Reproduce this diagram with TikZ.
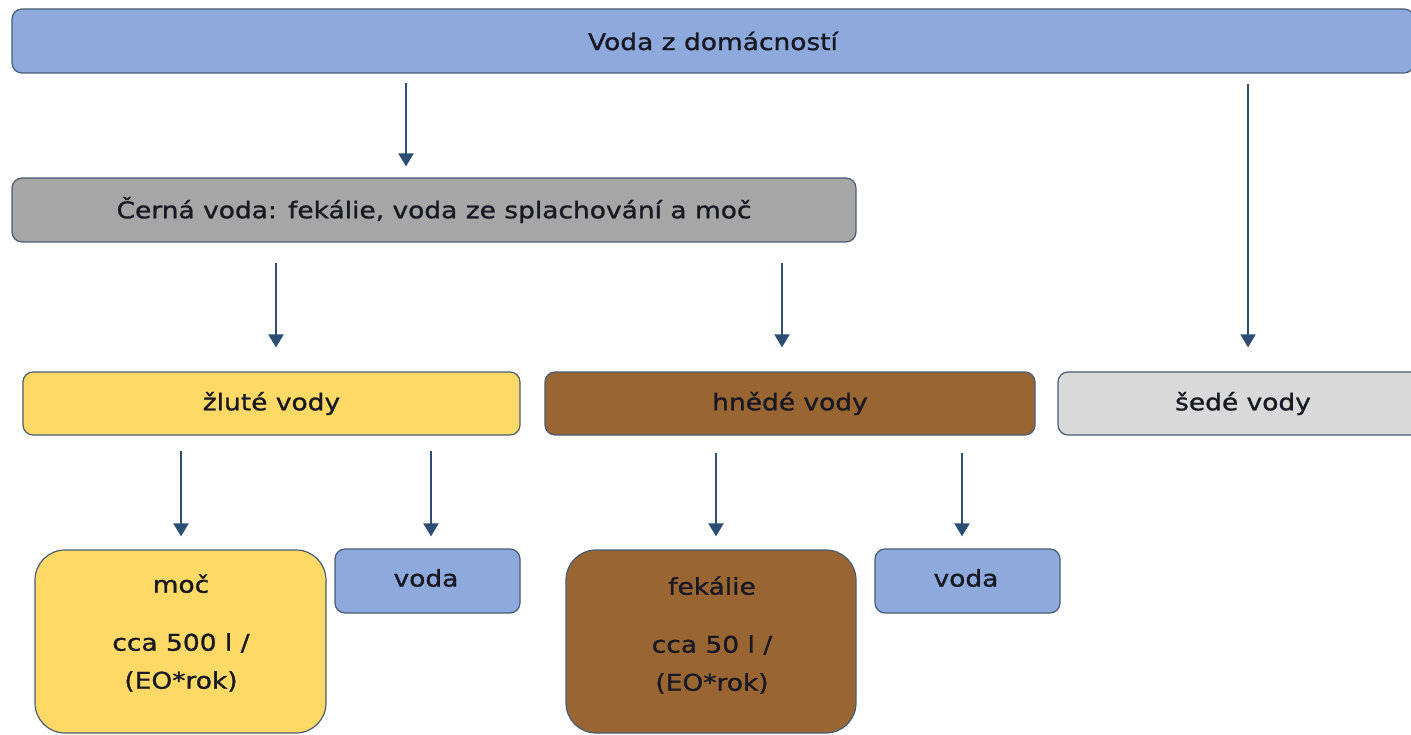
\documentclass[tikz,border=0pt]{standalone}
\usepackage{fontspec}
\setmainfont{DejaVu Sans}[FakeStretch=1.15,FakeBold=1.2]
\usetikzlibrary{arrows.meta}
\definecolor{bblue}{RGB}{142,169,219}
\definecolor{bgray}{RGB}{166,166,166}
\definecolor{byellow}{RGB}{255,217,102}
\definecolor{bbrown}{RGB}{153,102,51}
\definecolor{blight}{RGB}{217,217,217}
\definecolor{bline}{RGB}{72,92,115}
\definecolor{arrowc}{RGB}{44,78,115}
\definecolor{txt}{RGB}{25,25,35}
\tikzset{
  boxbase/.style={draw=bline, line width=1.2pt, rounded corners=10pt, inner sep=0pt,
    text=txt, font=\fontsize{23}{28}\selectfont},
  bigbox/.style={boxbase, rounded corners=30pt},
  txtnode/.style={text=txt, align=center, inner sep=0pt, font=\fontsize{23}{38}\selectfont},
  arr/.style={draw=arrowc, line width=2pt, -{Triangle[length=13pt,width=15pt]}}
}
\begin{document}
\begin{tikzpicture}[x=1pt,y=-1pt]
\useasboundingbox (0,0) rectangle (1411,735);
\clip (0,0) rectangle (1411,735);
\fill[white] (0,0) rectangle (1411,735);
% boxes
\node[boxbase, fill=bblue, minimum width=1402pt, minimum height=64pt] (top) at (713,41) {Voda z domácností};
\node[boxbase, fill=bgray, minimum width=844pt, minimum height=64pt] (cerna) at (434,210) {Černá voda: fekálie, voda ze splachování a moč};
\node[boxbase, fill=byellow, minimum width=497pt, minimum height=63pt] (zlute) at (271.5,403.5) {žluté vody};
\node[boxbase, fill=bbrown, minimum width=490pt, minimum height=63pt] (hnede) at (790,403.5) {hnědé vody};
\node[boxbase, fill=blight, minimum width=370pt, minimum height=63pt] (sede) at (1243,403.5) {šedé vody};
\node[bigbox, fill=byellow, minimum width=291pt, minimum height=183pt] (moc) at (180.5,641.5) {};
\node[txtnode] (moctxt) at (181,633) {moč\\[20pt]cca 500 l /\\(EO*rok)};
\node[boxbase, fill=bblue, minimum width=185pt, minimum height=64pt] (voda1) at (427.5,581) {};
\node[txtnode] (voda1txt) at (426,578) {voda};
\node[bigbox, fill=bbrown, minimum width=290pt, minimum height=183pt] (fek) at (711,641.5) {};
\node[txtnode] (fektxt) at (712,635) {fekálie\\[20pt]cca 50 l /\\(EO*rok)};
\node[boxbase, fill=bblue, minimum width=185pt, minimum height=64pt] (voda2) at (967.5,581) {};
\node[txtnode] (voda2txt) at (966,578) {voda};
% arrow x positions
\coordinate (ax1) at (406,0);
\coordinate (ax2) at (1248,0);
\coordinate (ax3) at (276,0);
\coordinate (ax4) at (782,0);
\coordinate (ax5) at (181,0);
\coordinate (ax6) at (431,0);
\coordinate (ax7) at (716,0);
\coordinate (ax8) at (962,0);
% arrows
\draw[arr, shorten <=9pt, shorten >=11pt] (top.south -| ax1) -- (cerna.north -| ax1);
\draw[arr, shorten <=10pt, shorten >=24pt] (top.south -| ax2) -- (sede.north -| ax2);
\draw[arr, shorten <=20pt, shorten >=24pt] (cerna.south -| ax3) -- (zlute.north -| ax3);
\draw[arr, shorten <=20pt, shorten >=24pt] (cerna.south -| ax4) -- (hnede.north -| ax4);
\draw[arr, shorten <=15pt, shorten >=13pt] (zlute.south -| ax5) -- (moc.north -| ax5);
\draw[arr, shorten <=15pt, shorten >=12pt] (zlute.south -| ax6) -- (voda1.north -| ax6);
\draw[arr, shorten <=17pt, shorten >=13pt] (hnede.south -| ax7) -- (fek.north -| ax7);
\draw[arr, shorten <=17pt, shorten >=12pt] (hnede.south -| ax8) -- (voda2.north -| ax8);
\end{tikzpicture}
\end{document}
